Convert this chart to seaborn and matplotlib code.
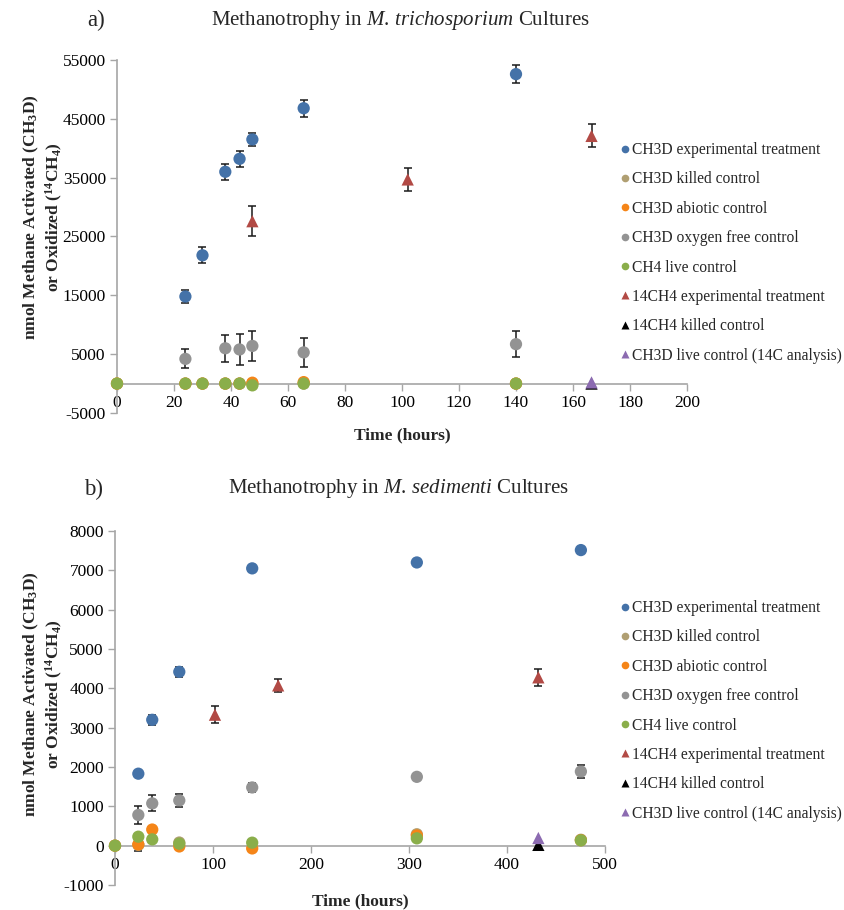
import numpy as np
import pandas as pd
import matplotlib
matplotlib.use("Agg")
import matplotlib.pyplot as plt
import seaborn as sns
from matplotlib.lines import Line2D

sns.set_theme(style="white")
plt.rcParams["font.family"] = ["Liberation Serif", "DejaVu Serif"]
plt.rcParams["mathtext.fontset"] = "custom"
plt.rcParams["mathtext.rm"] = "Liberation Serif"
plt.rcParams["mathtext.it"] = "Liberation Serif:italic"
plt.rcParams["mathtext.bf"] = "Liberation Serif:bold"
plt.rcParams["axes.unicode_minus"] = False

# ---------------- series definitions ----------------
series_names = [
    "CH3D experimental treatment",
    "CH3D killed control",
    "CH3D abiotic control",
    "CH3D oxygen free control",
    "CH4 live control",
    "14CH4 experimental treatment",
    "14CH4 killed control",
    "CH3D live control (14C analysis)",
]
series_colors = ["#4472a8", "#b09f72", "#f58518", "#939393", "#8aae4a", "#b24a45", "#000000", "#8c6bb1"]
series_markers = ["o", "o", "o", "o", "o", "^", "^", "^"]

# ---------------- panel a: M. trichosporium ----------------
a_exp_t = [24, 30, 38, 43, 47.5, 65.5, 140]
a_exp_v = [14800, 21800, 36000, 38200, 41500, 46800, 52600]
a_exp_e = [1100, 1350, 1350, 1400, 1100, 1450, 1500]

a_kill_t = [0, 24, 30, 38, 43, 47.5, 65.5, 140]
a_kill_v = [0, 0, 0, 0, 0, 0, 0, 0]

a_abio_t = [0, 24, 30, 38, 43, 47.5, 65.5, 140]
a_abio_v = [0, 0, 0, 0, 0, 150, 250, 0]

a_oxy_t = [24, 38, 43, 47.5, 65.5, 140]
a_oxy_v = [4200, 6000, 5800, 6400, 5300, 6700]
a_oxy_e = [1600, 2300, 2700, 2500, 2400, 2250]

a_live_t = [0, 24, 30, 38, 43, 47.5, 65.5, 140]
a_live_v = [0, 0, 0, 0, 0, -300, 0, 0]

a_c14_t = [47.5, 102, 166.5]
a_c14_v = [27600, 34700, 42100]
a_c14_e = [2600, 1900, 1950]

a_c14kill_t = [166.5]
a_c14kill_v = [0]

a_c14live_t = [166.5]
a_c14live_v = [200]

# ---------------- panel b: M. sedimenti ----------------
b_exp_t = [23.8, 38, 65.6, 140, 308, 475.4]
b_exp_v = [1830, 3200, 4420, 7050, 7200, 7515]
b_exp_e = [40, 130, 127, 40, 60, 40]

b_kill_t = [0, 23.8, 65.6, 308, 475.4]
b_kill_v = [0, 20, 80, 290, 150]

b_abio_t = [0, 23.8, 38, 65.6, 140, 308, 475.4]
b_abio_v = [0, 30, 410, -20, -70, 260, 140]
b_abio_e = [0, 165, 0, 0, 0, 0, 0]

b_oxy_t = [23.8, 38, 65.6, 140, 308, 475.4]
b_oxy_v = [780, 1075, 1150, 1480, 1750, 1885]
b_oxy_e = [225, 205, 155, 125, 40, 155]

b_live_t = [0, 23.8, 38, 65.6, 140, 308, 475.4]
b_live_v = [0, 228, 160, 50, 76, 186, 135]

b_c14_t = [102, 166.5, 432]
b_c14_v = [3330, 4075, 4280]
b_c14_e = [220, 170, 210]

b_c14kill_t = [432]
b_c14kill_v = [20]

b_c14live_t = [432]
b_c14live_v = [195]

panel_a = [
    (a_exp_t, a_exp_v, a_exp_e),
    (a_kill_t, a_kill_v, None),
    (a_abio_t, a_abio_v, None),
    (a_oxy_t, a_oxy_v, a_oxy_e),
    (a_live_t, a_live_v, None),
    (a_c14_t, a_c14_v, a_c14_e),
    (a_c14kill_t, a_c14kill_v, None),
    (a_c14live_t, a_c14live_v, None),
]
panel_b = [
    (b_exp_t, b_exp_v, b_exp_e),
    (b_kill_t, b_kill_v, None),
    (b_abio_t, b_abio_v, b_abio_e),
    (b_oxy_t, b_oxy_v, b_oxy_e),
    (b_live_t, b_live_v, None),
    (b_c14_t, b_c14_v, b_c14_e),
    (b_c14kill_t, b_c14kill_v, None),
    (b_c14live_t, b_c14live_v, None),
]

palette = dict(zip(series_names, series_colors))
markers = dict(zip(series_names, series_markers))

W, H = 845, 910
fig = plt.figure(figsize=(W / 100, H / 100), dpi=100)


def fx(px):
    return px / W


def fy(py):
    return 1 - py / H


ax_a = fig.add_axes([fx(117), fy(413), fx(687) - fx(117), fy(60) - fy(413)])
ax_b = fig.add_axes([fx(115), fy(885), fx(605) - fx(115), fy(531) - fy(885)])

AXCOL = "#a6a6a6"


def draw_panel(ax, panel, xlim, ylim, xticks, yticks):
    frames = []
    for name, (t, v, e) in zip(series_names, panel):
        frames.append(pd.DataFrame({"t": t, "v": v, "series": name}))
    df = pd.concat(frames, ignore_index=True)
    sns.scatterplot(data=df, x="t", y="v", hue="series", style="series",
                    hue_order=series_names, style_order=series_names,
                    palette=palette, markers=markers, s=78, linewidth=0,
                    edgecolor="none", legend=False, ax=ax, clip_on=False, zorder=3)
    for name, (t, v, e) in zip(series_names, panel):
        if e is None:
            continue
        tt = [a for a, b in zip(t, e) if b > 0]
        vv = [a for a, b in zip(v, e) if b > 0]
        ee = [b for b in e if b > 0]
        ax.errorbar(tt, vv, yerr=ee, fmt="none", ecolor="#1a1a1a", elinewidth=1.1,
                    capsize=3.2, capthick=1.1, zorder=2, clip_on=False)
    ax.set_xlim(*xlim)
    ax.set_ylim(*ylim)
    ax.set_xticks(xticks)
    ax.set_yticks(yticks)
    ax.set_xlabel("")
    ax.set_ylabel("")
    for s in ["top", "right"]:
        ax.spines[s].set_visible(False)
    ax.spines["bottom"].set_position(("data", 0))
    for s in ["left", "bottom"]:
        ax.spines[s].set_color(AXCOL)
        ax.spines[s].set_linewidth(1.2)
    ax.tick_params(axis="both", which="major", bottom=True, left=True, direction="out",
                   length=5, width=1, color=AXCOL, labelsize=12.5, labelcolor="black", pad=3)
    ax.grid(False)
    ax.set_facecolor("white")


draw_panel(ax_a, panel_a, (0, 200), (-5000, 55000), np.arange(0, 201, 20), np.arange(-5000, 55001, 10000))
draw_panel(ax_b, panel_b, (0, 500), (-1000, 8000), np.arange(0, 501, 100), np.arange(-1000, 8001, 1000))

# titles
fig.text(fx(87), fy(20), "a)", fontsize=16.5, ha="left", va="center")
fig.text(fx(401), fy(20), r"Methanotrophy in $\mathit{M.\,trichosporium}$ Cultures",
         fontsize=15, ha="center", va="center")
fig.text(fx(84), fy(489), "b)", fontsize=16.5, ha="left", va="center")
fig.text(fx(398), fy(489), r"Methanotrophy in $\mathit{M.\,sedimenti}$ Cultures",
         fontsize=15, ha="center", va="center")

ylab = "nmol Methane Activated (CH$\\mathbf{_3}$D)\nor Oxidized ($\\mathbf{^{14}}$CH$\\mathbf{_4}$)"
fig.text(fx(43), fy(217), ylab, rotation=90, fontsize=12.5, fontweight="bold", ha="center",
         va="center", multialignment="center")
fig.text(fx(43), fy(694), ylab, rotation=90, fontsize=12.5, fontweight="bold", ha="center",
         va="center", multialignment="center")

fig.text(fx(402), fy(435), "Time (hours)", fontsize=12.5, fontweight="bold", ha="center", va="center")
fig.text(fx(360), fy(901), "Time (hours)", fontsize=12.5, fontweight="bold", ha="center", va="center")

handles = [Line2D([], [], linestyle="none", marker=m, markersize=5.5, markerfacecolor=c,
                  markeredgecolor="none") for c, m in zip(series_colors, series_markers)]
for ytop in (142, 600):
    fig.legend(handles, series_names, loc="upper left", bbox_to_anchor=(fx(620), fy(ytop)),
               frameon=False, fontsize=11.2, handlelength=0.6, handletextpad=0.2,
               labelspacing=0.86, borderpad=0, borderaxespad=0)

fig.savefig("out.png", dpi=100, facecolor="white")
